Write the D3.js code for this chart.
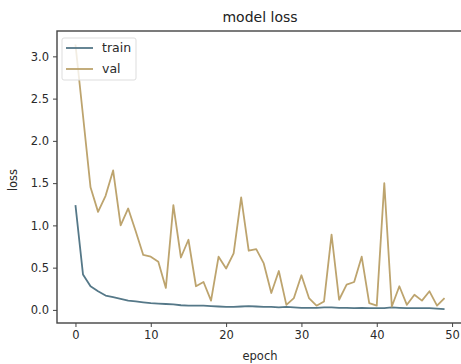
<!DOCTYPE html>
<html>
<head>
<meta charset="utf-8">
<script src="https://cdn.jsdelivr.net/npm/d3@7"></script>
<style>
  body { margin: 0; background: #fff; }
  svg { display: block; font-family: "DejaVu Sans", sans-serif; }
</style>
</head>
<body>
<script>
// values, one per epoch
var epochs = d3.range(50);
var trainLoss = [1.24, 0.42, 0.28, 0.22, 0.17, 0.15, 0.13, 0.11, 0.10, 0.09,
  0.08, 0.075, 0.07, 0.065, 0.055, 0.05, 0.05, 0.05, 0.045, 0.04,
  0.035, 0.035, 0.04, 0.045, 0.04, 0.035, 0.035, 0.03, 0.035, 0.03,
  0.025, 0.025, 0.025, 0.03, 0.03, 0.025, 0.025, 0.02, 0.025, 0.02,
  0.02, 0.02, 0.03, 0.025, 0.02, 0.02, 0.02, 0.02, 0.015, 0.01];
var valLoss = [3.14, 2.3, 1.45, 1.16, 1.35, 1.65, 1.0, 1.2, 0.93, 0.65,
  0.63, 0.57, 0.26, 1.24, 0.62, 0.83, 0.28, 0.33, 0.11, 0.63,
  0.49, 0.67, 1.33, 0.7, 0.72, 0.55, 0.2, 0.46, 0.06, 0.14,
  0.41, 0.14, 0.05, 0.1, 0.89, 0.12, 0.3, 0.33, 0.63, 0.08,
  0.05, 1.5, 0.04, 0.28, 0.06, 0.18, 0.11, 0.22, 0.05, 0.14];
var xTicks = [0, 10, 20, 30, 40, 50];
var yTicks = [0, 0.5, 1, 1.5, 2, 2.5, 3];
var seriesNames = ["train", "val"];
var colors = ["#557888", "#bda46e"];

var W = 461, H = 364;
// plot box (right side runs past the image edge, like the reference)
var pLeft = 57, pRight = 463, pTop = 31, pBottom = 323;

var svg = d3.select("body").append("svg").attr("width", W).attr("height", H);

// matplotlib style 5% margins
var x = d3.scaleLinear().domain([-2.45, 51.45]).range([pLeft, pRight]);
var y = d3.scaleLinear().domain([-0.155, 3.3]).range([pBottom, pTop]);

svg.append("g")
  .attr("transform", "translate(0," + pBottom + ")")
  .call(d3.axisBottom(x).tickValues(xTicks).tickFormat(d3.format("d")).tickSizeOuter(0).tickSize(4).tickPadding(4))
  .call(g => g.select(".domain").remove());

svg.append("g")
  .attr("transform", "translate(" + pLeft + ",0)")
  .call(d3.axisLeft(y).tickValues(yTicks).tickFormat(d3.format(".1f")).tickSizeOuter(0).tickSize(4).tickPadding(4))
  .call(g => g.select(".domain").remove());

svg.selectAll(".tick text").attr("font-size", 11.5).attr("fill", "#2a2a2a").attr("font-family", "DejaVu Sans");
svg.selectAll(".tick line").attr("stroke", "#444");

svg.append("rect")
  .attr("x", pLeft).attr("y", pTop)
  .attr("width", pRight - pLeft).attr("height", pBottom - pTop)
  .attr("fill", "none").attr("stroke", "#444").attr("stroke-width", 1.4);

var line = d3.line().x((d, i) => x(epochs[i])).y(d => y(d));

[trainLoss, valLoss].forEach(function(s, k) {
  svg.append("path")
    .datum(s)
    .attr("d", line)
    .attr("fill", "none")
    .attr("stroke", colors[k])
    .attr("stroke-width", 1.8)
    .attr("stroke-linejoin", "round");
});

// legend
var lg = svg.append("g").attr("transform", "translate(62,38)");
lg.append("rect").attr("width", 74).attr("height", 42).attr("rx", 2)
  .attr("fill", "#fff").attr("fill-opacity", 0.8).attr("stroke", "#ddd");
seriesNames.forEach(function(n, k) {
  var yy = 10 + k * 21;
  lg.append("line").attr("x1", 4).attr("x2", 31).attr("y1", yy).attr("y2", yy)
    .attr("stroke", colors[k]).attr("stroke-width", 1.8);
  lg.append("text").attr("x", 40).attr("y", yy + 4).attr("font-size", 12.5)
    .attr("fill", "#2a2a2a").text(n);
});

svg.append("text").attr("x", (pLeft + pRight) / 2).attr("y", 22)
  .attr("text-anchor", "middle").attr("font-size", 14).attr("fill", "#222").text("model loss");

svg.append("text").attr("x", 260).attr("y", 360)
  .attr("text-anchor", "middle").attr("font-size", 11.5).attr("fill", "#2a2a2a").text("epoch");

svg.append("text").attr("transform", "translate(17,180) rotate(-90)")
  .attr("text-anchor", "middle").attr("font-size", 11.5).attr("fill", "#2a2a2a").text("loss");
</script>
</body>
</html>
